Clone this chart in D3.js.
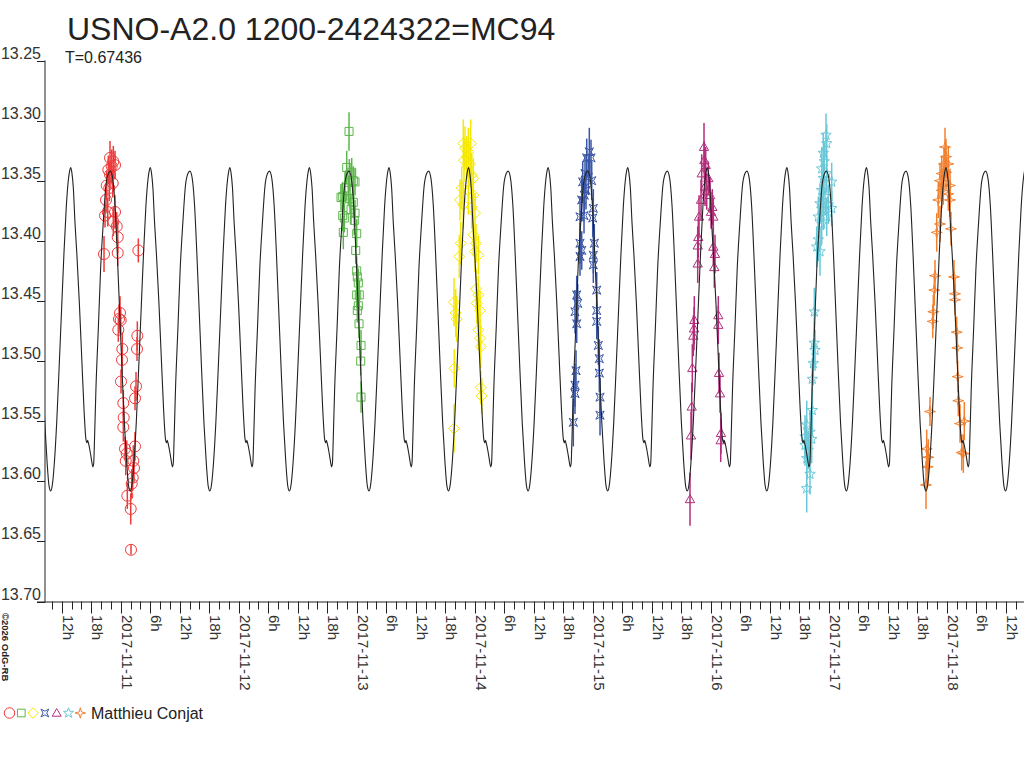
<!DOCTYPE html>
<html>
<head>
<meta charset="utf-8">
<script src="https://cdn.jsdelivr.net/npm/d3@7"></script>
<style>
  body { margin: 0; background: #fff; }
  svg { display: block; font-family: "Liberation Sans", Arial, sans-serif; }
</style>
</head>
<body>
<svg id="chart" width="1024" height="768"></svg>
<script>
const TITLE = 'USNO-A2.0 1200-2424322=MC94';
const PERIOD = 0.67436;          // days
const EPOCH = 66.907;            // a deep minimum of the model
const OBSERVER = 'Matthieu Conjat';

// model light curve over one period (phase 0 = deep minimum)
const modelPhase = [0, 0.020, 0.045, 0.075, 0.105, 0.135, 0.165, 0.195, 0.222, 0.240, 0.250, 0.265,
  0.284, 0.304, 0.329, 0.359, 0.388, 0.418, 0.442, 0.455, 0.464, 0.480, 0.505, 0.530, 0.540, 0.548,
  0.568, 0.598, 0.627, 0.661, 0.693, 0.724, 0.749, 0.778, 0.807, 0.837, 0.866, 0.895, 0.925, 0.954,
  0.979, 1.000];
const modelMag = [13.608, 13.603, 13.585, 13.551, 13.506, 13.459, 13.412, 13.372, 13.349, 13.341, 13.339, 13.343,
  13.356, 13.384, 13.412, 13.451, 13.495, 13.540, 13.565, 13.568, 13.566, 13.570, 13.579, 13.588, 13.585, 13.570,
  13.523, 13.473, 13.423, 13.384, 13.354, 13.344, 13.342, 13.348, 13.370, 13.412, 13.459, 13.506, 13.551, 13.584,
  13.604, 13.608];

const yTicks = [13.25, 13.30, 13.35, 13.40, 13.45, 13.50, 13.55, 13.60, 13.65, 13.70];

// [jd, mag, err]
const night1 = [
  [67.4093,13.331,.014],[67.4373,13.334,.013],[67.4237,13.338,.014],[67.4517,13.337,.012],[67.3949,13.341,.012],
  [67.4093,13.345,.011],[67.3814,13.354,.012],[67.4034,13.356,.011],[67.4322,13.352,.012],[67.3754,13.366,.011],
  [67.3898,13.376,.012],[67.3669,13.379,.010],[67.4517,13.376,.014],[67.4373,13.384,.012],[67.4661,13.388,.012],
  [67.4746,13.397,.013],[67.3585,13.411,.015],[67.4746,13.410,.011],[67.6492,13.408,.010],[67.4941,13.460,.014],
  [67.4856,13.465,.012],[67.5000,13.466,.011],[67.4797,13.474,.010],[67.6407,13.479,.012],[67.5136,13.490,.014],
  [67.6381,13.490,.010],[67.5110,13.499,.012],[67.5025,13.517,.010],[67.6297,13.521,.012],[67.6212,13.531,.010],
  [67.5220,13.535,.011],[67.5254,13.547,.010],[67.5220,13.555,.012],[67.6212,13.571,.012],[67.5364,13.573,.010],
  [67.5508,13.577,.011],[67.5424,13.583,.012],[67.6068,13.583,.013],[67.6127,13.589,.012],[67.6017,13.597,.011],
  [67.5932,13.602,.012],[67.5559,13.612,.011],[67.5847,13.623,.013],[67.5873,13.657,.004]
];
const night2 = [
  [69.4348,13.309,.016],[69.4153,13.339,.014],[69.4576,13.343,.012],[69.4373,13.345,.013],[69.4712,13.350,.012],
  [69.4856,13.351,.011],[69.4009,13.356,.013],[69.3814,13.363,.012],[69.4288,13.358,.012],[69.4432,13.365,.013],
  [69.3670,13.364,.011],[69.4712,13.368,.012],[69.4517,13.374,.012],[69.3814,13.379,.013],[69.3949,13.381,.012],
  [69.4856,13.377,.011],[69.4797,13.383,.012],[69.3864,13.393,.014],[69.5000,13.394,.012],[69.4915,13.408,.011],
  [69.5000,13.425,.012],[69.5051,13.430,.011],[69.5136,13.435,.012],[69.5000,13.445,.011],[69.5220,13.445,.012],
  [69.5136,13.454,.011],[69.5051,13.458,.010],[69.5195,13.469,.012],[69.5365,13.487,.013],[69.5339,13.500,.012],
  [69.5365,13.530,.013]
];
const night3 = [
  [70.4034,13.319,.020],[70.4661,13.319,.020],[70.4178,13.323,.018],[70.4458,13.326,.020],[70.4322,13.330,.017],
  [70.4093,13.333,.018],[70.4602,13.336,.019],[70.4746,13.345,.018],[70.4881,13.348,.017],[70.3898,13.356,.018],
  [70.4458,13.358,.020],[70.4881,13.362,.018],[70.3754,13.366,.017],[70.4034,13.370,.020],[70.4746,13.372,.018],
  [70.5025,13.377,.017],[70.4881,13.395,.016],[70.3814,13.402,.018],[70.5110,13.402,.016],[70.5025,13.409,.017],
  [70.5305,13.412,.016],[70.3695,13.413,.018],[70.5110,13.440,.017],[70.5305,13.445,.016],[70.3246,13.451,.020],
  [70.5170,13.452,.017],[70.5449,13.458,.016],[70.3390,13.460,.020],[70.3475,13.465,.019],[70.5305,13.474,.017],
  [70.5449,13.481,.016],[70.5509,13.488,.018],[70.3271,13.506,.016],[70.5509,13.522,.014],[70.5593,13.529,.015],
  [70.3246,13.556,.020]
];
const night4 = [
  [71.4712,13.326,.020],[71.4492,13.331,.016],[71.4856,13.331,.015],[71.4348,13.344,.016],[71.4627,13.347,.015],
  [71.4915,13.350,.016],[71.4153,13.351,.017],[71.4432,13.358,.016],[71.4068,13.366,.018],[71.4288,13.362,.015],
  [71.5051,13.373,.016],[71.3924,13.380,.017],[71.4263,13.379,.015],[71.5000,13.381,.016],[71.3924,13.402,.017],
  [71.4068,13.408,.016],[71.5136,13.402,.016],[71.3924,13.413,.016],[71.5051,13.412,.015],[71.5051,13.420,.015],
  [71.5339,13.441,.015],[71.3644,13.445,.016],[71.3729,13.452,.016],[71.3500,13.459,.018],[71.5339,13.458,.015],
  [71.3644,13.469,.016],[71.5339,13.467,.015],[71.5475,13.487,.016],[71.5560,13.498,.016],[71.3585,13.508,.017],
  [71.5560,13.510,.016],[71.3500,13.520,.018],[71.3500,13.527,.017],[71.5619,13.530,.016],[71.5619,13.545,.017],
  [71.3356,13.551,.020]
];
const night5 = [
  [72.4432,13.322,.020],[72.4458,13.333,.016],[72.4576,13.337,.015],[72.4237,13.344,.016],[72.4797,13.348,.014],
  [72.4517,13.355,.016],[72.4661,13.359,.015],[72.4941,13.362,.015],[72.4178,13.366,.017],[72.5136,13.372,.015],
  [72.5026,13.376,.014],[72.4009,13.380,.018],[72.5220,13.380,.015],[72.3949,13.397,.017],[72.3898,13.404,.016],
  [72.5220,13.405,.015],[72.5364,13.411,.016],[72.3898,13.419,.016],[72.5305,13.422,.017],[72.3610,13.466,.020],
  [72.5644,13.462,.016],[72.3585,13.473,.018],[72.5644,13.470,.016],[72.3525,13.479,.017],[72.3441,13.506,.020],
  [72.5703,13.510,.017],[72.5788,13.527,.016],[72.3390,13.538,.020],[72.3331,13.562,.020],[72.5873,13.560,.017],
  [72.5848,13.566,.018],[72.3246,13.615,.022]
];
const night6 = [
  [73.4771,13.312,.018],[73.4831,13.319,.016],[73.4543,13.327,.017],[73.4627,13.334,.016],[73.4407,13.340,.018],
  [73.4831,13.344,.016],[73.4543,13.348,.017],[73.5254,13.351,.016],[73.4407,13.358,.018],[73.4686,13.363,.016],
  [73.4263,13.369,.017],[73.4966,13.370,.016],[73.5254,13.373,.015],[73.4543,13.374,.017],[73.4119,13.380,.017],
  [73.4831,13.380,.016],[73.4407,13.386,.017],[73.4119,13.399,.018],[73.3983,13.405,.017],[73.4263,13.409,.020],
  [73.3780,13.459,.020],[73.3780,13.485,.018],[73.3839,13.491,.017],[73.3695,13.502,.018],[73.3610,13.515,.017],
  [73.3610,13.541,.018],[73.3136,13.553,.020],[73.3415,13.559,.018],[73.2992,13.563,.018],[73.3559,13.565,.020],
  [73.2992,13.570,.017],[73.3271,13.574,.016],[73.3136,13.581,.018],[73.3415,13.594,.017],[73.3136,13.606,.020]
];
const night7 = [
  [74.4856,13.322,.016],[74.4941,13.330,.015],[74.4771,13.336,.014],[74.5136,13.336,.015],[74.4576,13.344,.015],
  [74.4941,13.343,.014],[74.4432,13.350,.015],[74.4712,13.354,.016],[74.5280,13.354,.014],[74.4576,13.358,.015],
  [74.5136,13.361,.014],[74.4288,13.366,.015],[74.5280,13.366,.014],[74.4432,13.386,.015],[74.4153,13.393,.016],
  [74.5364,13.390,.014],[74.4008,13.429,.013],[74.5619,13.430,.014],[74.3949,13.441,.013],[74.5703,13.444,.014],
  [74.5703,13.449,.013],[74.3864,13.459,.014],[74.3814,13.467,.014],[74.5847,13.476,.013],[74.5898,13.489,.013],
  [74.5932,13.513,.013],[74.5983,13.533,.013],[74.3585,13.542,.012],[74.6127,13.552,.016],[74.6492,13.550,.016],
  [74.3305,13.573,.016],[74.3441,13.580,.015],[74.6271,13.576,.015],[74.6407,13.577,.016],[74.3390,13.588,.014],
  [74.3246,13.603,.020]
];

const nights = [night1, night2, night3, night4, night5, night6, night7];
const nightColors = ['#ee3a3a', '#5cb64b', '#f5e800', '#3a56a6', '#b32e7c', '#68c8d8', '#f2802e'];

// marker shapes, r is half the size
const shapes = [
  (p, r) => { p.moveTo(r, 0); p.arc(0, 0, r, 0, 2 * Math.PI); },
  (p, r) => { const s = r * 0.73; p.rect(-s, -s, 2 * s, 2 * s); },
  (p, r) => { p.moveTo(0, -r); p.lineTo(r, 0); p.lineTo(0, r); p.lineTo(-r, 0); p.closePath(); },
  (p, r) => {
    const c = r * 0.75, m = r * 0.35;
    p.moveTo(-c, -c); p.lineTo(0, -m); p.lineTo(c, -c); p.lineTo(m, 0);
    p.lineTo(c, c); p.lineTo(0, m); p.lineTo(-c, c); p.lineTo(-m, 0); p.closePath();
  },
  (p, r) => { const a = r * 0.85; p.moveTo(0, -a); p.lineTo(a, a * 0.72); p.lineTo(-a, a * 0.72); p.closePath(); },
  (p, r) => {
    for (let i = 0; i < 10; i++) {
      const rr = i % 2 ? r * 0.42 : r, a = -Math.PI / 2 + i * Math.PI / 5;
      i ? p.lineTo(rr * Math.cos(a), rr * Math.sin(a)) : p.moveTo(rr * Math.cos(a), rr * Math.sin(a));
    }
    p.closePath();
  },
  (p, r) => {
    for (let i = 0; i < 8; i++) {
      const rr = i % 2 ? r * 0.3 : r, a = -Math.PI / 2 + i * Math.PI / 4;
      i ? p.lineTo(rr * Math.cos(a), rr * Math.sin(a)) : p.moveTo(rr * Math.cos(a), rr * Math.sin(a));
    }
    p.closePath();
  }
];
const symbolType = draw => ({draw: (ctx, size) => draw(ctx, Math.sqrt(size) / 2)});

const toDate = t => new Date(Date.UTC(2017, 10, 11) + (t - 67.5) * 864e5);

const svg = d3.select('#chart');
const plotLeft = 45, plotRight = 1023, plotTop = 60.5, plotBottom = 601.5;

const x = d3.scaleUtc()
  .domain([new Date(Date.UTC(2017, 10, 10, 8, 36)), new Date(Date.UTC(2017, 10, 18, 15, 31))])
  .range([plotLeft, plotRight]);
const y = d3.scaleLinear().domain([13.25, 13.70]).range([plotTop, plotBottom]);

// title
svg.append('text')
  .attr('x', 67).attr('y', 40)
  .style('font-size', '32px').style('fill', '#222')
  .text(TITLE);
svg.append('text')
  .attr('x', 65).attr('y', 63)
  .style('font-size', '16px').style('fill', '#222')
  .text('T=' + PERIOD.toFixed(5));

// y axis
const yAxis = svg.append('g');
yAxis.append('line')
  .attr('x1', plotLeft).attr('x2', plotLeft).attr('y1', plotTop).attr('y2', plotBottom + 1)
  .attr('stroke', '#222');
yAxis.selectAll('line.tick').data(yTicks).enter().append('line')
  .attr('class', 'tick')
  .attr('x1', 37).attr('x2', plotLeft)
  .attr('y1', d => Math.round(y(d)) + 0.5).attr('y2', d => Math.round(y(d)) + 0.5)
  .attr('stroke', '#222');
yAxis.selectAll('text').data(yTicks).enter().append('text')
  .attr('x', 41).attr('y', d => y(d) - 2)
  .attr('text-anchor', 'end')
  .style('font-size', '16px').style('fill', '#333')
  .text(d => d.toFixed(2));

// x axis
const xAxis = svg.append('g');
xAxis.append('line')
  .attr('x1', 37).attr('x2', 1024).attr('y1', plotBottom + 0.5).attr('y2', plotBottom + 0.5)
  .attr('stroke', '#222');
const hours = x.ticks(d3.utcHour.every(2));
xAxis.selectAll('line.tick').data(hours).enter().append('line')
  .attr('class', 'tick')
  .attr('x1', d => Math.round(x(d)) + 0.5).attr('x2', d => Math.round(x(d)) + 0.5)
  .attr('y1', plotBottom)
  .attr('y2', d => d.getUTCHours() % 6 === 0 ? plotBottom + 12 : plotBottom + 8)
  .attr('stroke', '#222');
const fmtDay = d3.utcFormat('%Y-%m-%d');
xAxis.selectAll('text').data(hours.filter(d => d.getUTCHours() % 6 === 0)).enter().append('text')
  .attr('transform', d => `translate(${x(d) + 1},615) rotate(90)`)
  .style('font-size', '15px').style('fill', '#333')
  .text(d => d.getUTCHours() === 0 ? fmtDay(d) : d.getUTCHours() + 'h');

svg.append('text')
  .attr('transform', 'translate(2,613) rotate(90)')
  .style('font-size', '9.5px').style('font-weight', 'bold').style('fill', '#222')
  .text('\u00a92026 OdG-RB');

// plot area
svg.append('clipPath').attr('id', 'clip')
  .append('rect').attr('x', plotLeft).attr('y', 0).attr('width', 1024 - plotLeft).attr('height', plotBottom);
const plot = svg.append('g').attr('clip-path', 'url(#clip)');

// observations
nights.forEach((rows, i) => {
  const g = plot.append('g');
  g.selectAll('line').data(rows).enter().append('line')
    .attr('x1', d => x(toDate(d[0]))).attr('x2', d => x(toDate(d[0])))
    .attr('y1', d => y(d[1] - d[2])).attr('y2', d => y(d[1] + d[2]))
    .attr('stroke', nightColors[i]).attr('stroke-width', 1.5);
  g.selectAll('path').data(rows).enter().append('path')
    .attr('transform', d => `translate(${x(toDate(d[0]))},${y(d[1])})`)
    .attr('d', d3.symbol(symbolType(shapes[i]), 121))
    .attr('fill', 'none').attr('stroke', nightColors[i]).attr('stroke-width', 1);
});

// model curve repeated over the whole time span
const tMin = 67.5 + (x.domain()[0] - Date.UTC(2017, 10, 11)) / 864e5;
const tMax = 67.5 + (x.domain()[1] - Date.UTC(2017, 10, 11)) / 864e5;
const model = [];
for (let k = Math.floor((tMin - EPOCH) / PERIOD) - 1; k <= Math.ceil((tMax - EPOCH) / PERIOD); k++) {
  modelPhase.forEach((ph, j) => {
    if (j === modelPhase.length - 1) return;
    model.push([EPOCH + (k + ph) * PERIOD, modelMag[j]]);
  });
}
plot.append('path')
  .datum(model)
  .attr('d', d3.line().x(d => x(toDate(d[0]))).y(d => y(d[1])).curve(d3.curveMonotoneX))
  .attr('fill', 'none').attr('stroke', '#222').attr('stroke-width', 1.1);

// legend
const legend = svg.append('g').attr('transform', 'translate(0,713)');
shapes.forEach((s, i) => {
  legend.append('path')
    .attr('transform', `translate(${9.5 + i * 11.8},0)`)
    .attr('d', d3.symbol(symbolType(s), 110)())
    .attr('fill', 'none').attr('stroke', nightColors[i]);
});
legend.append('text')
  .attr('x', 91).attr('y', 6)
  .style('font-size', '16px').style('fill', '#222')
  .text(OBSERVER);
</script>
</body>
</html>
